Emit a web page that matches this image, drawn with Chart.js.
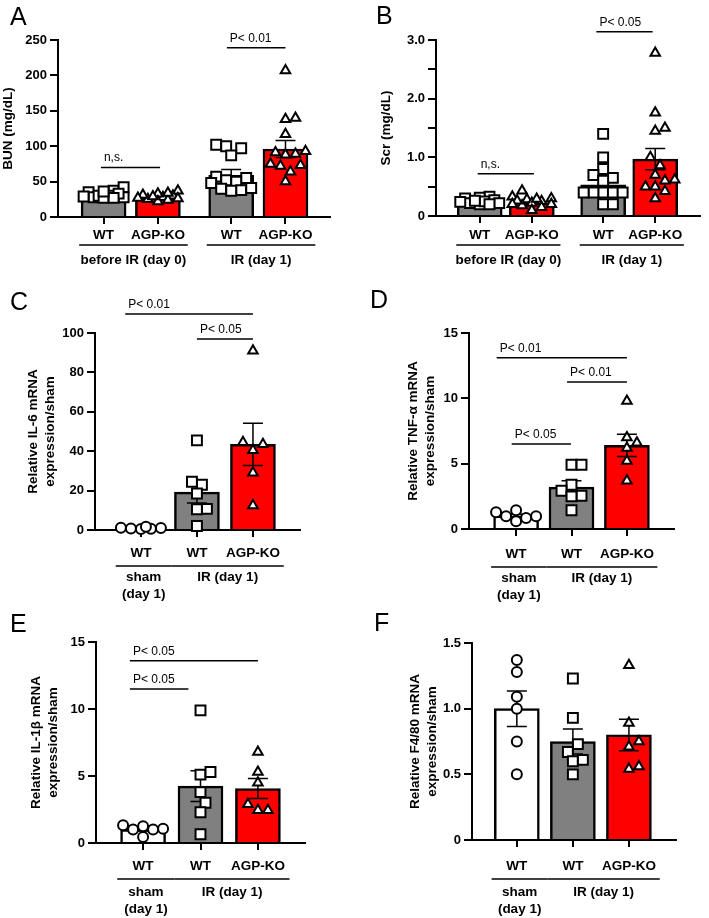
<!DOCTYPE html>
<html>
<head>
<meta charset="utf-8">
<script src="https://cdn.jsdelivr.net/npm/chart.js@4.4.1/dist/chart.umd.min.js"></script>
<style>
  html, body { margin: 0; padding: 0; background: #fff; }
  body { position: relative; width: 709px; height: 918px; overflow: hidden; }
  canvas { position: absolute; }
</style>
</head>
<body>
<canvas id="panelA"></canvas>
<canvas id="panelB"></canvas>
<canvas id="panelC"></canvas>
<canvas id="panelD"></canvas>
<canvas id="panelE"></canvas>
<canvas id="panelF"></canvas>
<script>
// ---- values ----
const kidneyCats = ['WT', 'AGP-KO', 'WT', 'AGP-KO'];
const kidneyGroups = [['before IR (day 0)'], ['IR (day 1)']];
const kidneyGroupOf = [0, 0, 1, 1];

const bunTicks = [0, 50, 100, 150, 200, 250];
const bunTickLabels = ['0', '50', '100', '150', '200', '250'];
const bunMean = [32, 27, 59, 96];
const bunSem = [2, 1.5, 8, 12];
const bunWtDay0 = [37, 35, 42, 30, 28, 30, 27, 28, 33, 29, 27, 36];
const bunKoDay0 = [28, 30, 33, 25, 22, 29, 31, 37, 26, 24, 27, 34];
const bunWtDay1 = [102, 100, 97, 87, 55, 57, 52, 48, 50, 40, 38, 41, 37];
const bunKoDay1 = [207, 138, 140, 117, 93, 91, 89, 88, 75, 73, 72, 64, 50];

const scrTicks = [0, 0.5, 1.0, 1.5, 2.0, 2.5, 3.0];
const scrTickLabels = ['0', '', '1.0', '', '2.0', '', '3.0'];
const scrMean = [0.27, 0.23, 0.53, 0.97];
const scrSem = [0.02, 0.03, 0.11, 0.18];
const scrWtDay0 = [0.33, 0.30, 0.31, 0.22, 0.20, 0.25, 0.27, 0.22, 0.20, 0.24, 0.26];
const scrKoDay0 = [0.33, 0.30, 0.43, 0.28, 0.25, 0.22, 0.20, 0.15, 0.10, 0.18, 0.26, 0.29, 0.20];
const scrWtDay1 = [1.4, 1.0, 0.8, 0.7, 0.65, 0.6, 0.4, 0.4, 0.4, 0.4, 0.4, 0.2, 0.2];
const scrKoDay1 = [2.78, 1.76, 1.45, 1.5, 1.0, 0.86, 0.7, 0.6, 0.62, 0.5, 0.5, 0.42, 0.3];

const mrnaCats = ['WT', 'WT', 'AGP-KO'];
const mrnaGroups = [['sham', '(day 1)'], ['IR (day 1)']];
const mrnaGroupOf = [0, 1, 1];

const il6Ticks = [0, 20, 40, 60, 80, 100];
const il6TickLabels = ['0', '20', '40', '60', '80', '100'];
const il6Mean = [1, 19.2, 43.5];
const il6Sem = [0.15, 5.5, 10.7];
const il6Sham = [1.2, 0.8, 1.0, 0.6, 0.5, 1.6];
const il6Wt = [45.5, 23, 24.5, 18.5, 10.7, 10.5, 2];
const il6Ko = [91, 44.5, 43.5, 40.5, 29, 12.5];

const tnfTicks = [0, 5, 10, 15];
const tnfTickLabels = ['0', '5', '10', '15'];
const tnfMean = [1.0, 3.2, 6.4];
const tnfSem = [0.13, 0.5, 0.85];
const tnfSham = [0.84, 1.28, 0.97, 0.97, 1.43, 0.59];
const tnfWt = [4.92, 4.92, 3.39, 2.93, 2.55, 2.5, 1.43];
const tnfKo = [9.8, 7.0, 6.6, 6.2, 5.2, 3.7];

const il1bTicks = [0, 5, 10, 15];
const il1bTickLabels = ['0', '5', '10', '15'];
const il1bMean = [1.0, 4.25, 4.07];
const il1bSem = [0.1, 1.15, 0.75];
const il1bSham = [1.32, 1.07, 0.45, 1.0, 1.0, 1.25];
const il1bWt = [9.9, 5.1, 5.3, 3.8, 3.0, 2.3, 0.65];
const il1bKo = [6.8, 5.3, 4.5, 2.9, 2.45, 2.45];

const f480Ticks = [0, 0.5, 1.0, 1.5];
const f480TickLabels = ['0', '0.5', '1.0', '1.5'];
const f480Mean = [1.0, 0.75, 0.80];
const f480Sem = [0.135, 0.095, 0.12];
const f480Sham = [1.37, 1.28, 1.09, 1.0, 0.75, 0.5];
const f480Wt = [1.23, 0.93, 0.73, 0.67, 0.6, 0.61, 0.5];
const f480Ko = [1.33, 0.89, 0.75, 0.71, 0.56, 0.54];

// ---- styling / layout ----
const FONT = "'Liberation Sans', Arial, sans-serif";
const GRAY = '#808080', RED = '#ff0000', WHITE = '#ffffff';
const RADIUS = { circle: 5, rect: 7, triangle: 5.5 };

Chart.defaults.font.family = FONT;
Chart.defaults.color = '#000';

const panels = [
  {
    id: 'panelA', letter: 'A', letterPos: [10, 25], box: [0, 0, 354, 285], area: [58, 40, 330, 217],
    xRange: [-0.84, 4.17], gap: 0.35, cats: kidneyCats, groups: kidneyGroups, groupOf: kidneyGroupOf,
    means: bunMean, sems: bunSem, points: [bunWtDay0, bunKoDay0, bunWtDay1, bunKoDay1],
    fills: [GRAY, RED, GRAY, RED], shapes: ['rect', 'triangle', 'rect', 'triangle'],
    ticks: bunTicks, tickLabels: bunTickLabels, title: 'BUN (mg/dL)', titlePad: 0,
    catPad: 3, lineDy: 28, groupDy: 43,
    brackets: [
      { x0: -0.05, x1: 1.04, level: 70, text: 'n,s.' },
      { x0: 2.27, x1: 3.35, level: 239, text: 'P< 0.01' }
    ]
  },
  {
    id: 'panelB', letter: 'B', letterPos: [22, 24], box: [354, 0, 355, 285], area: [436, 40, 707, 216],
    xRange: [-0.84, 4.23], gap: 0.37, cats: kidneyCats, groups: kidneyGroups, groupOf: kidneyGroupOf,
    means: scrMean, sems: scrSem, points: [scrWtDay0, scrKoDay0, scrWtDay1, scrKoDay1],
    fills: [GRAY, RED, GRAY, RED], shapes: ['rect', 'triangle', 'rect', 'triangle'],
    ticks: scrTicks, tickLabels: scrTickLabels, title: 'Scr (mg/dL)', titlePad: 24,
    catPad: 4, lineDy: 29, groupDy: 44,
    brackets: [
      { x0: -0.04, x1: 1.04, level: 0.72, text: 'n,s.' },
      { x0: 2.24, x1: 3.32, level: 3.14, text: 'P< 0.05' }
    ]
  },
  {
    id: 'panelC', letter: 'C', letterPos: [10, 25], box: [0, 285, 354, 320], area: [95, 333, 300, 530],
    xRange: [-0.82, 2.84], gap: 0, cats: mrnaCats, groups: mrnaGroups, groupOf: mrnaGroupOf,
    means: il6Mean, sems: il6Sem, points: [il6Sham, il6Wt, il6Ko],
    fills: [WHITE, GRAY, RED], shapes: ['circle', 'rect', 'triangle'],
    ticks: il6Ticks, tickLabels: il6TickLabels, title: ['Relative IL-6 mRNA', 'expression/sham'], titlePad: 25,
    catPad: 8, lineDy: 36, groupDy: 47,
    brackets: [
      { x0: -0.28, x1: 2, level: 109.6, text: 'P< 0.01' },
      { x0: 1, x1: 2, level: 97, text: 'P< 0.05' }
    ]
  },
  {
    id: 'panelD', letter: 'D', letterPos: [16, 23], box: [354, 285, 355, 320], area: [469, 333, 674, 529],
    xRange: [-0.85, 2.85], gap: 0, cats: mrnaCats, groups: mrnaGroups, groupOf: mrnaGroupOf,
    means: tnfMean, sems: tnfSem, points: [tnfSham, tnfWt, tnfKo],
    fills: [WHITE, GRAY, RED], shapes: ['circle', 'rect', 'triangle'],
    ticks: tnfTicks, tickLabels: tnfTickLabels, title: ['Relative TNF-α mRNA', 'expression/sham'], titlePad: 51,
    catPad: 10, lineDy: 38, groupDy: 49,
    brackets: [
      { x0: -0.35, x1: 2, level: 13.1, text: 'P< 0.01' },
      { x0: 0.92, x1: 2, level: 11.25, text: 'P< 0.01' },
      { x0: -0.08, x1: 0.99, level: 6.5, text: 'P< 0.05' }
    ]
  },
  {
    id: 'panelE', letter: 'E', letterPos: [10, 27], box: [0, 605, 354, 313], area: [96, 642, 305, 843],
    xRange: [-0.82, 2.82], gap: 0, cats: mrnaCats, groups: mrnaGroups, groupOf: mrnaGroupOf,
    means: il1bMean, sems: il1bSem, points: [il1bSham, il1bWt, il1bKo],
    fills: [WHITE, GRAY, RED], shapes: ['circle', 'rect', 'triangle'],
    ticks: il1bTicks, tickLabels: il1bTickLabels, title: ['Relative IL-1β mRNA', 'expression/sham'], titlePad: 28,
    catPad: 8, lineDy: 36, groupDy: 49,
    brackets: [
      { x0: -0.23, x1: 2, level: 13.6, text: 'P< 0.05' },
      { x0: -0.23, x1: 0.79, level: 11.5, text: 'P< 0.05' }
    ]
  },
  {
    id: 'panelF', letter: 'F', letterPos: [20, 26], box: [354, 605, 355, 313], area: [472, 643, 676, 840],
    xRange: [-0.80, 2.84], gap: 0, cats: mrnaCats, groups: mrnaGroups, groupOf: mrnaGroupOf,
    means: f480Mean, sems: f480Sem, points: [f480Sham, f480Wt, f480Ko],
    fills: [WHITE, GRAY, RED], shapes: ['circle', 'rect', 'triangle'],
    ticks: f480Ticks, tickLabels: f480TickLabels, title: ['Relative F4/80 mRNA', 'expression/sham'], titlePad: 53,
    catPad: 11, lineDy: 39, groupDy: 52,
    brackets: []
  }
];

// spread points sideways so they don't sit on top of each other (prism-style scatter)
function swarmOffsets(values, pxPerY, minDist, step, maxHalf) {
  const placed = [];
  const out = new Array(values.length).fill(0);
  const order = values.map((v, i) => i).sort((a, b) => values[a] - values[b]);
  const cands = [0];
  for (let k = 1; k * step <= maxHalf; k++) cands.push(k * step, -k * step);
  order.forEach(i => {
    const py = values[i] * pxPerY;
    let best = 0, bestD = -1;
    for (const c of cands) {
      let d = Infinity;
      placed.forEach(p => { d = Math.min(d, Math.hypot(p.x - c, p.y - py)); });
      if (d >= minDist) { best = c; break; }
      if (d > bestD) { bestD = d; best = c; }
    }
    placed.push({ x: best, y: py });
    out[i] = best;
  });
  return out;
}

function annotPlugin(p, pos) {
  return {
    id: 'annot' + p.letter,
    afterDatasetDraw(chart, args) {
      if (args.index !== 0) return;
      const ctx = chart.ctx, xs = chart.scales.x, ys = chart.scales.y;
      ctx.save();
      ctx.strokeStyle = '#000';
      ctx.lineWidth = 1.5;
      p.means.forEach((m, i) => {
        const px = xs.getPixelForValue(pos[i]);
        const yHi = ys.getPixelForValue(m + p.sems[i]);
        const yLo = ys.getPixelForValue(m - p.sems[i]);
        ctx.beginPath();
        ctx.moveTo(px, yLo); ctx.lineTo(px, yHi);
        ctx.moveTo(px - 10, yHi); ctx.lineTo(px + 10, yHi);
        ctx.moveTo(px - 10, yLo); ctx.lineTo(px + 10, yLo);
        ctx.stroke();
      });
      ctx.restore();
    },
    afterDraw(chart) {
      const ctx = chart.ctx, xs = chart.scales.x, ys = chart.scales.y;
      const base = chart.chartArea.bottom;
      ctx.save();
      ctx.fillStyle = '#000';
      ctx.strokeStyle = '#000';
      ctx.textAlign = 'left';
      ctx.textBaseline = 'alphabetic';
      ctx.font = '25px ' + FONT;
      ctx.fillText(p.letter, p.letterPos[0], p.letterPos[1]);

      ctx.lineWidth = 1.5;
      ctx.font = '12px ' + FONT;
      p.brackets.forEach(b => {
        const x0 = xs.getPixelForValue(b.x0), x1 = xs.getPixelForValue(b.x1);
        const y = ys.getPixelForValue(b.level);
        ctx.beginPath(); ctx.moveTo(x0, y); ctx.lineTo(x1, y); ctx.stroke();
        ctx.fillText(b.text, x0 + 3, y - 6);
      });

      const unit = xs.getPixelForValue(1) - xs.getPixelForValue(0);
      ctx.font = 'bold 13.5px ' + FONT;
      ctx.textAlign = 'center';
      ctx.textBaseline = 'middle';
      p.groups.forEach((g, gi) => {
        const idx = p.groupOf.map((v, i) => v === gi ? i : -1).filter(i => i >= 0);
        const xa = xs.getPixelForValue(pos[idx[0]]) - 0.45 * unit;
        const xb = xs.getPixelForValue(pos[idx[idx.length - 1]]) + 0.55 * unit;
        ctx.beginPath(); ctx.moveTo(xa, base + p.lineDy); ctx.lineTo(xb, base + p.lineDy); ctx.stroke();
        g.forEach((line, li) => ctx.fillText(line, (xa + xb) / 2, base + p.groupDy + li * 17));
      });
      ctx.restore();
    }
  };
}

function makePanel(p) {
  const canvas = document.getElementById(p.id);
  const [bx, by, bw, bh] = p.box;
  const [al, at, ar, ab] = p.area;
  canvas.width = bw; canvas.height = bh;
  canvas.style.left = bx + 'px'; canvas.style.top = by + 'px';
  canvas.style.width = bw + 'px'; canvas.style.height = bh + 'px';

  const pos = p.groupOf.map((g, i) => i + g * p.gap);
  const pxPerX = (ar - al) / (p.xRange[1] - p.xRange[0]);
  const yMax = p.ticks[p.ticks.length - 1];
  const pxPerY = (ab - at) / yMax;

  const datasets = [{
    type: 'bar',
    data: pos.map((x, i) => ({ x, y: p.means[i] })),
    backgroundColor: p.fills,
    borderColor: '#000',
    borderWidth: 2.5,
    barThickness: 45,
    order: 5,
    clip: false
  }];
  p.points.forEach((vals, i) => {
    const off = swarmOffsets(vals, pxPerY, 10, 5, 22);
    datasets.push({
      type: 'scatter',
      data: vals.map((v, k) => ({ x: pos[i] + off[k] / pxPerX, y: v })),
      pointStyle: p.shapes[i],
      pointRadius: RADIUS[p.shapes[i]],
      pointBackgroundColor: '#fff',
      pointBorderColor: '#000',
      pointBorderWidth: 2,
      order: 1,
      clip: false
    });
  });

  const axisGrid = { display: true, drawOnChartArea: false, drawTicks: true, color: '#000', lineWidth: 2, offset: false };

  new Chart(canvas, {
    type: 'bar',
    data: { datasets },
    options: {
      responsive: false,
      animation: false,
      devicePixelRatio: 1,
      layout: { padding: { left: 0, top: at - by, right: bx + bw - ar, bottom: 0 } },
      plugins: { legend: { display: false }, tooltip: { enabled: false } },
      scales: {
        x: {
          type: 'linear',
          offset: false,
          min: p.xRange[0],
          max: p.xRange[1],
          afterFit: s => { s.height = by + bh - ab; },
          afterBuildTicks: s => { s.ticks = pos.map(v => ({ value: v })); },
          ticks: {
            autoSkip: false, maxRotation: 0, minRotation: 0, padding: p.catPad, color: '#000',
            font: { family: FONT, size: 13.5, weight: 'bold' },
            callback: (v, i) => p.cats[i]
          },
          grid: Object.assign({ tickLength: 7 }, axisGrid),
          border: { display: true, color: '#000', width: 2 }
        },
        y: {
          min: 0,
          max: yMax,
          afterFit: s => { s.width = al - bx; },
          afterBuildTicks: s => { s.ticks = p.ticks.map(v => ({ value: v })); },
          ticks: {
            padding: 3, color: '#000',
            font: { family: FONT, size: 13, weight: 'bold' },
            callback: (v, i) => p.tickLabels[i]
          },
          grid: Object.assign({ tickLength: 8 }, axisGrid),
          border: { display: true, color: '#000', width: 2 },
          title: {
            display: true, text: p.title, color: '#000',
            font: { family: FONT, size: 13.5, weight: 'bold', lineHeight: 1.25 },
            padding: { top: p.titlePad, bottom: 0 }
          }
        }
      }
    },
    plugins: [annotPlugin(p, pos)]
  });
}

panels.forEach(makePanel);
</script>
</body>
</html>
